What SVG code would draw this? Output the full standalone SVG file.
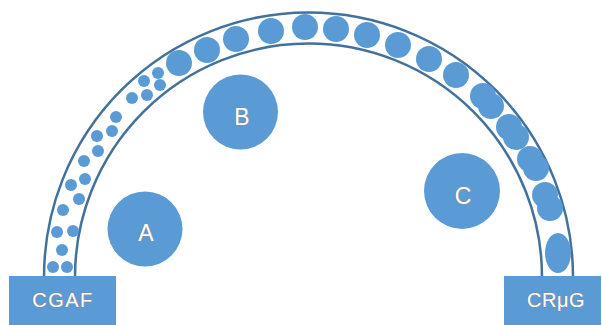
<svg xmlns="http://www.w3.org/2000/svg" width="602" height="325" viewBox="0 0 602 325">
  <style>
    .fill { fill: #5B9BD5; }
    .wall { fill: none; stroke: #41719C; stroke-width: 2.5; }
    .label { font-family: "Liberation Sans", Arial, sans-serif; fill: #ffffff; stroke: #8c8c8c; stroke-width: 1.1; paint-order: stroke; text-anchor: middle; }
  </style>

  <!-- arched channel with beads -->
  <g id="connectors">
    <path class="wall" d="M44,277 A264.5,264.5 0 0 1 573,277"/>
    <path class="wall" d="M75,277 A233.5,233.5 0 0 1 542,277"/>
    <!-- small beads, left leg -->
    <g class="fill">
      <circle cx="53" cy="267" r="6"/>
      <circle cx="67" cy="267" r="6"/>
      <circle cx="62" cy="250" r="6"/>
      <circle cx="57" cy="232" r="6"/>
      <circle cx="73" cy="231" r="6"/>
      <circle cx="63" cy="210" r="6"/>
      <circle cx="79" cy="199" r="6"/>
      <circle cx="71" cy="185" r="6"/>
      <circle cx="85" cy="179" r="6"/>
      <circle cx="84" cy="161" r="6"/>
      <circle cx="98" cy="151" r="6"/>
      <circle cx="97" cy="136" r="6"/>
      <circle cx="112" cy="131" r="6"/>
      <circle cx="116" cy="117" r="6"/>
      <circle cx="132" cy="98" r="6"/>
      <circle cx="147" cy="95" r="6"/>
      <circle cx="144" cy="81" r="6"/>
      <circle cx="160" cy="85" r="6"/>
      <circle cx="158" cy="73" r="6"/>
    </g>
    <!-- large beads, crown and right leg -->
    <g class="fill">
      <circle cx="179" cy="63" r="13"/>
      <circle cx="207" cy="50" r="13"/>
      <circle cx="236" cy="39" r="13"/>
      <circle cx="271" cy="31" r="13"/>
      <circle cx="305" cy="27" r="13"/>
      <circle cx="336" cy="29" r="13"/>
      <circle cx="367" cy="35" r="13"/>
      <circle cx="398" cy="45" r="13"/>
      <circle cx="429" cy="59" r="13"/>
      <circle cx="456" cy="75" r="13"/>
      <circle cx="483" cy="96" r="13"/>
      <circle cx="491" cy="106" r="13"/>
      <circle cx="509" cy="127" r="13"/>
      <circle cx="516" cy="137" r="13"/>
      <circle cx="530" cy="159" r="13"/>
      <circle cx="536" cy="168" r="13"/>
      <circle cx="545" cy="195" r="13"/>
      <circle cx="550" cy="208" r="13"/>
      <ellipse cx="558" cy="253" rx="13" ry="20"/>
    </g>
  </g>

  <g id="node-A">
    <circle class="fill" cx="145" cy="229" r="37.5"/>
    <text class="label" x="146" y="241" font-size="23">A</text>
  </g>

  <g id="node-B">
    <circle class="fill" cx="240.5" cy="112" r="37.5"/>
    <text class="label" x="242" y="125" font-size="23">B</text>
  </g>

  <g id="node-C">
    <circle class="fill" cx="462" cy="191" r="38"/>
    <text class="label" x="463" y="204" font-size="23">C</text>
  </g>

  <g id="node-CGAF">
    <rect class="fill" x="9" y="276" width="107" height="49"/>
    <text class="label" x="63" y="307" font-size="20" letter-spacing="1.5">CGAF</text>
  </g>

  <g id="node-CRuG">
    <rect class="fill" x="504" y="276" width="97" height="49"/>
    <text class="label" x="556" y="307" font-size="20" letter-spacing="0.5">CRμG</text>
  </g>
</svg>
